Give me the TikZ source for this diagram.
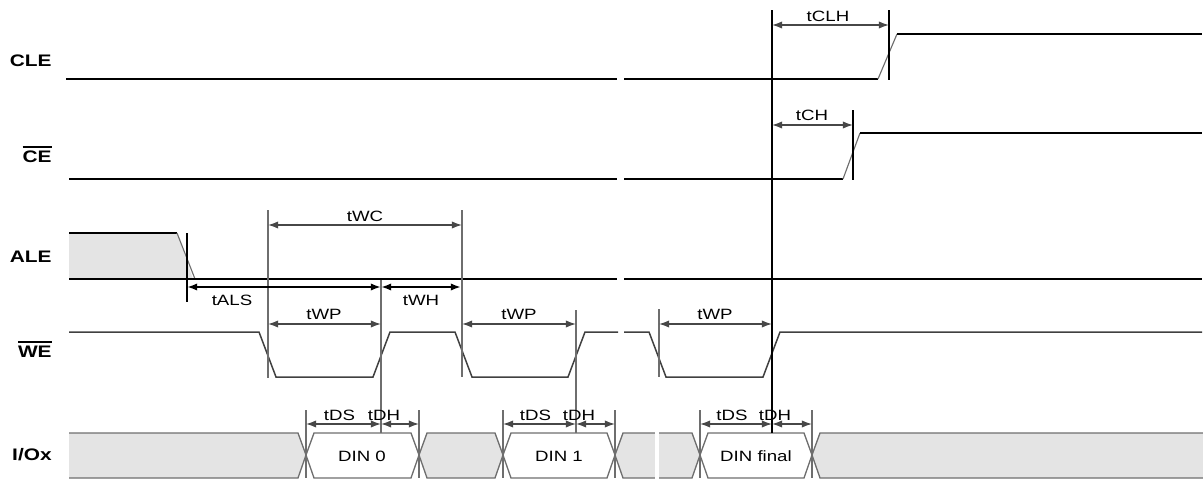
\documentclass[tikz,border=0pt]{standalone}
\usepackage{fontspec}
\setmainfont[FakeStretch=1.25]{Liberation Sans}
\usepackage{tikz}
\usetikzlibrary{arrows.meta,calc}

\definecolor{busgray}{HTML}{E4E4E4}
\definecolor{guidegray}{HTML}{6E6E6E}

\newcommand{\barsig}[1]{\vbox{\hrule height 1pt\kern1.4pt\hbox{#1}}}

\tikzset{
    sig/.style={line width=1.1pt, black},
    wesig/.style={line width=0.85pt, black!75},
    edgeline/.style={line width=0.65pt, guidegray},
    guide/.style={line width=0.75pt, guidegray},
    guideblk/.style={line width=1.1pt, black},
    dim/.style={{Latex[length=5.8pt,width=4.2pt]}-{Latex[length=5.8pt,width=4.2pt]}, line width=0.75pt, black!72},
    dimblk/.style={dim, line width=1.1pt, black},
    lbl/.style={font=\fontsize{8.5}{10}\selectfont, anchor=base, inner sep=0pt},
    signame/.style={font=\fontsize{9.5}{11}\selectfont\bfseries, anchor=base east, inner sep=0pt},
    busline/.style={line width=0.75pt, guidegray},
}

\begin{document}
\begin{tikzpicture}[x=0.02cm, y=-0.02cm]

\useasboundingbox (0,0) rectangle (1203,480);

% Signal names
\node[signame] (cle) at (52,66) {CLE};
\node[signame] (ce) at (52,162) {\barsig{CE}};
\node[signame] (ale) at (52,262) {ALE};
\node[signame] (we) at (52,357) {\barsig{WE}};
\node[signame] (io) at (52,460) {I/Ox};

% CLE
\draw[sig] (66,79) -- (617,79);
\draw[sig] (624,79) -- (878,79);
\draw[edgeline] (878,79) -- (897,34);
\draw[sig] (897,34) -- (1202,34);

% CE
\draw[sig] (69,179) -- (617,179);
\draw[sig] (624,179) -- (843,179);
\draw[edgeline] (843,179) -- (860,133);
\draw[sig] (860,133) -- (1202,133);

% ALE
\fill[busgray] (69,233) -- (177,233) -- (193,279) -- (69,279) -- cycle;
\draw[sig] (69,233) -- (177,233);
\draw[edgeline] (177,233) -- (195,279);
\draw[sig] (69,279) -- (617,279);
\draw[sig] (624,279) -- (1202,279);

% WE
\draw[wesig] (69,332) -- (259,332) -- (276,377) -- (373,377) -- (390,332) -- (455,332)
    -- (472,377) -- (568,377) -- (585,332) -- (618,332);
\draw[wesig] (624,332) -- (649,332) -- (666,377) -- (763,377) -- (780,332) -- (1202,332);

% I/Ox bus
\fill[busgray] (69,433) -- (298,433) -- (306,455) -- (298,478) -- (69,478) -- cycle;
\draw[busline] (69,433) -- (298,433) -- (306,455) -- (298,478) -- (69,478);
\foreach \xl/\xr in {419/503, 615/700}
    \filldraw[busline, fill=busgray] (\xl,455) -- (\xl+8,433) -- (\xr-8,433) -- (\xr,455)
        -- (\xr-8,478) -- (\xl+8,478) -- cycle;
\foreach \xl/\xr in {306/419, 503/615, 700/812}
    \filldraw[busline, fill=white] (\xl,455) -- (\xl+8,433) -- (\xr-8,433) -- (\xr,455)
        -- (\xr-8,478) -- (\xl+8,478) -- cycle;
\fill[busgray] (812,455) -- (820,433) -- (1203,433) -- (1203,478) -- (820,478) -- cycle;
\draw[busline] (1203,433) -- (820,433) -- (812,455) -- (820,478) -- (1203,478);
\fill[white] (655,430) rectangle (659,481);

\node[lbl] (din0) at (362,461) {DIN 0};
\node[lbl] (din1) at (559,461) {DIN 1};
\node[lbl] (dinf) at (756,461) {DIN final};

% Timing guides
\draw[guideblk] (187,233) -- (187,302);
\draw[guide] (268,210) -- (268,378);
\draw[guide] (462,210) -- (462,377);
\draw[guide] (381,280) -- (381,433);
\draw[guide] (576,310) -- (576,433);
\draw[guide] (659,309) -- (659,377);
\draw[guideblk] (772,10) -- (772,433);
\draw[guideblk] (889,10) -- (889,80);
\draw[guideblk] (853,110) -- (853,180);

% Timing arrows
\draw[dim] (268,225) -- (462,225);
\node[lbl] (twc) at (365,221) {tWC};
\draw[dimblk] (187,287) -- (381,287);
\node[lbl] (tals) at (232,305) {tALS};
\draw[dimblk] (381,287) -- (461,287);
\node[lbl] (twh) at (421,305) {tWH};
\draw[dim] (268,324) -- (381,324);
\node[lbl] (twp0) at (324,319) {tWP};
\draw[dim] (462,324) -- (576,324);
\node[lbl] (twp1) at (519,319) {tWP};
\draw[dim] (659,324) -- (772,324);
\node[lbl] (twpf) at (715,319) {tWP};
\draw[dim] (772,25) -- (889,25);
\node[lbl] (tclh) at (828,21) {tCLH};
\draw[dim] (772,125) -- (853,125);
\node[lbl] (tch) at (812,120) {tCH};

% Data setup / hold
\foreach \xa/\xb/\xc in {306/381/419, 503/576/615, 700/772/812} {
    \draw[guide] (\xa,410) -- (\xa,478);
    \draw[guide] (\xc,410) -- (\xc,478);
    \draw[dim] (\xa,424) -- (\xb,424);
    \draw[dim] (\xb,424) -- (\xc,424);
    \node[lbl] (tds\xa) at ({(\xa+\xb)/2-4},420) {tDS};
    \node[lbl] (tdh\xa) at (\xb+3,420) {tDH};
}

\end{tikzpicture}
\end{document}
